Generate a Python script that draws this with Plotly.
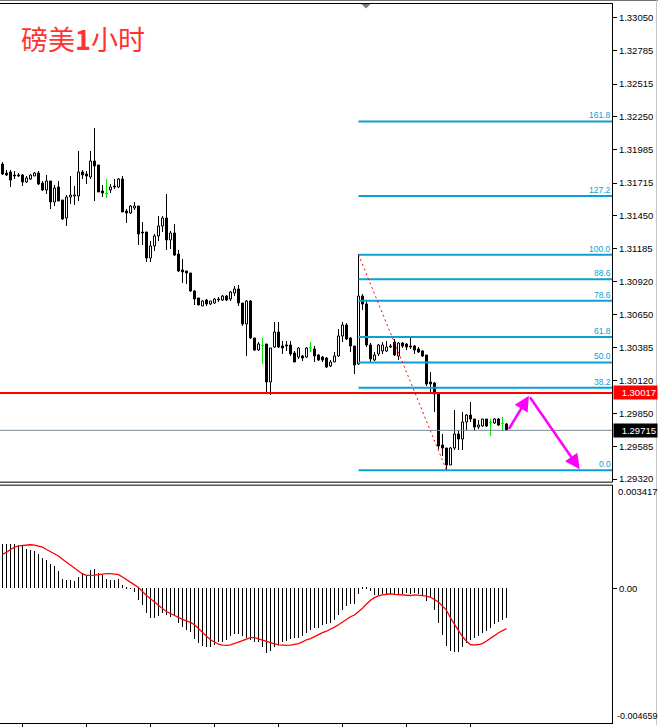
import plotly.graph_objects as go

W, H = 658, 727

# ---------------- data (GBP/USD, H1) ----------------
opens = [1.31863, 1.31796, 1.31801, 1.31774, 1.31778, 1.31774, 1.31720, 1.31742, 1.31769, 1.31790,
         1.31710, 1.31656, 1.31726, 1.31559, 1.31675, 1.31572, 1.31425, 1.31602, 1.31607, 1.31607,
         1.31804, 1.31782, 1.31756, 1.31890, 1.31855, 1.31647, 1.31629, 1.31656, 1.31688, 1.31675,
         1.31742, 1.31484, 1.31467, 1.31508, 1.31522, 1.31316, 1.31312, 1.31102, 1.31199, 1.31279,
         1.31360, 1.31425, 1.31252, 1.31306, 1.31136, 1.31010, 1.30999, 1.30983, 1.30840, 1.30781,
         1.30719, 1.30765, 1.30733, 1.30741, 1.30773, 1.30768, 1.30800, 1.30773, 1.30822, 1.30854,
         1.30741, 1.30571, 1.30759, 1.30456, 1.30364, 1.30402, 1.30410, 1.30101, 1.30383, 1.30504,
         1.30396, 1.30402, 1.30402, 1.30337, 1.30302, 1.30311, 1.30302, 1.30383, 1.30369, 1.30321,
         1.30302, 1.30294, 1.30230, 1.30267, 1.30311, 1.30472, 1.30563, 1.30456, 1.30391, 1.30248,
         1.30795, 1.30733, 1.30402, 1.30283, 1.30329, 1.30356, 1.30356, 1.30383, 1.30424, 1.30315,
         1.30418, 1.30410, 1.30391, 1.30396, 1.30369, 1.30356, 1.30321, 1.30101, 1.30095, 1.30014,
         1.29594, 1.29568, 1.29433, 1.29568, 1.29683, 1.29643, 1.29778, 1.29837, 1.29799, 1.29737,
         1.29750, 1.29799, 1.29778, 1.29772, 1.29799, 1.29772, 1.29764]
highs = [1.31882, 1.31817, 1.31817, 1.31809, 1.31790, 1.31782, 1.31764, 1.31782, 1.31804, 1.31809,
         1.31728, 1.31774, 1.31730, 1.31693, 1.31728, 1.31575, 1.31613, 1.31764, 1.31688, 1.31970,
         1.31815, 1.31809, 1.31970, 1.32159, 1.31858, 1.31693, 1.31742, 1.31702, 1.31742, 1.31748,
         1.31764, 1.31500, 1.31532, 1.31554, 1.31525, 1.31397, 1.31315, 1.31244, 1.31298, 1.31441,
         1.31446, 1.31621, 1.31325, 1.31379, 1.31169, 1.31096, 1.31002, 1.30986, 1.30843, 1.30784,
         1.30765, 1.30773, 1.30759, 1.30781, 1.30792, 1.30805, 1.30805, 1.30840, 1.30881, 1.30886,
         1.30744, 1.30762, 1.30762, 1.30459, 1.30424, 1.30456, 1.30413, 1.30378, 1.30585, 1.30585,
         1.30437, 1.30437, 1.30437, 1.30356, 1.30383, 1.30321, 1.30383, 1.30424, 1.30391, 1.30329,
         1.30315, 1.30302, 1.30283, 1.30343, 1.30531, 1.30585, 1.30579, 1.30464, 1.30394, 1.31136,
         1.30814, 1.30759, 1.30418, 1.30343, 1.30410, 1.30424, 1.30437, 1.30410, 1.30450, 1.30428,
         1.30428, 1.30418, 1.30464, 1.30402, 1.30383, 1.30364, 1.30324, 1.30181, 1.30098, 1.30017,
         1.29683, 1.29571, 1.29576, 1.29879, 1.29710, 1.29863, 1.29845, 1.29944, 1.29804, 1.29791,
         1.29804, 1.29804, 1.29804, 1.29810, 1.29810, 1.29818, 1.29772]
lows = [1.31774, 1.31764, 1.31683, 1.31742, 1.31758, 1.31688, 1.31715, 1.31734, 1.31764, 1.31696,
        1.31647, 1.31621, 1.31505, 1.31522, 1.31565, 1.31413, 1.31360, 1.31540, 1.31532, 1.31567,
        1.31742, 1.31702, 1.31742, 1.31567, 1.31637, 1.31602, 1.31588, 1.31634, 1.31661, 1.31667,
        1.31473, 1.31387, 1.31459, 1.31494, 1.31209, 1.31209, 1.31069, 1.31069, 1.31163, 1.31244,
        1.31312, 1.31171, 1.31177, 1.31123, 1.30994, 1.30902, 1.30894, 1.30832, 1.30727, 1.30722,
        1.30714, 1.30719, 1.30725, 1.30730, 1.30747, 1.30759, 1.30759, 1.30759, 1.30800, 1.30719,
        1.30558, 1.30311, 1.30453, 1.30356, 1.30356, 1.30248, 1.30020, 1.29998, 1.30375, 1.30375,
        1.30329, 1.30356, 1.30315, 1.30262, 1.30289, 1.30275, 1.30294, 1.30348, 1.30262, 1.30275,
        1.30262, 1.30214, 1.30222, 1.30262, 1.30302, 1.30424, 1.30445, 1.30348, 1.30168, 1.30240,
        1.30687, 1.30383, 1.30256, 1.30275, 1.30315, 1.30329, 1.30348, 1.30378, 1.30311, 1.30283,
        1.30375, 1.30364, 1.30369, 1.30329, 1.30337, 1.30302, 1.30073, 1.30006, 1.29863, 1.29562,
        1.29503, 1.29393, 1.29427, 1.29548, 1.29548, 1.29548, 1.29710, 1.29778, 1.29702, 1.29724,
        1.29742, 1.29742, 1.29665, 1.29764, 1.29750, 1.29702, 1.29702]
closes = [1.31788, 1.31780, 1.31736, 1.31764, 1.31770, 1.31720, 1.31748, 1.31774, 1.31790, 1.31702,
          1.31656, 1.31728, 1.31559, 1.31667, 1.31567, 1.31419, 1.31602, 1.31618, 1.31618, 1.31804,
          1.31774, 1.31764, 1.31890, 1.31849, 1.31639, 1.31629, 1.31629, 1.31683, 1.31675, 1.31742,
          1.31478, 1.31467, 1.31522, 1.31524, 1.31298, 1.31304, 1.31102, 1.31199, 1.31284, 1.31360,
          1.31425, 1.31252, 1.31306, 1.31128, 1.31002, 1.30994, 1.30983, 1.30840, 1.30773, 1.30725,
          1.30759, 1.30730, 1.30755, 1.30773, 1.30765, 1.30800, 1.30768, 1.30827, 1.30854, 1.30741,
          1.30571, 1.30759, 1.30456, 1.30364, 1.30410, 1.30402, 1.30101, 1.30375, 1.30504, 1.30383,
          1.30375, 1.30396, 1.30329, 1.30267, 1.30375, 1.30294, 1.30375, 1.30383, 1.30315, 1.30283,
          1.30283, 1.30222, 1.30267, 1.30311, 1.30472, 1.30563, 1.30450, 1.30391, 1.30240, 1.30795,
          1.30733, 1.30402, 1.30289, 1.30321, 1.30402, 1.30402, 1.30383, 1.30396, 1.30321, 1.30418,
          1.30396, 1.30383, 1.30383, 1.30364, 1.30348, 1.30315, 1.30087, 1.30087, 1.30006, 1.29584,
          1.29568, 1.29433, 1.29568, 1.29683, 1.29643, 1.29778, 1.29837, 1.29799, 1.29737, 1.29756,
          1.29799, 1.29750, 1.29778, 1.29799, 1.29756, 1.29772, 1.29715]

macd_main = [0.00149, 0.00151, 0.00151, 0.00151, 0.00148, 0.00142, 0.00134, 0.00131, 0.00126, 0.00117,
             0.00104, 0.00097, 0.00081, 0.00074, 0.00057, 0.00033, 0.00029, 0.00027, 0.00025, 0.00038,
             0.00052, 0.00046, 0.00061, 0.00067, 0.00052, 0.00046, 0.00033, 0.00029, 0.00029, 0.00030,
             0.00010, 0.00004, -0.00001, -0.00013, -0.00041, -0.00057, -0.00083, -0.00099, -0.00099, -0.00095,
             -0.00083, -0.00091, -0.00097, -0.00095, -0.00117, -0.00131, -0.00140, -0.00148, -0.00173, -0.00187,
             -0.00196, -0.00200, -0.00200, -0.00193, -0.00182, -0.00182, -0.00176, -0.00162, -0.00155, -0.00155,
             -0.00162, -0.00167, -0.00176, -0.00182, -0.00182, -0.00198, -0.00219, -0.00212, -0.00200, -0.00193,
             -0.00182, -0.00178, -0.00173, -0.00170, -0.00167, -0.00162, -0.00151, -0.00140, -0.00136, -0.00133,
             -0.00125, -0.00122, -0.00117, -0.00108, -0.00091, -0.00074, -0.00061, -0.00052, -0.00052, -0.00020,
             0.00002, 0.00002, -0.00009, -0.00024, -0.00024, -0.00020, -0.00020, -0.00020, -0.00024, -0.00020,
             -0.00018, -0.00016, -0.00018, -0.00016, -0.00018, -0.00024, -0.00043, -0.00031, -0.00074, -0.00119,
             -0.00159, -0.00196, -0.00212, -0.00215, -0.00215, -0.00200, -0.00185, -0.00176, -0.00170, -0.00162,
             -0.00153, -0.00144, -0.00133, -0.00122, -0.00114, -0.00106, -0.00102]
macd_signal = [0.00116, 0.00122, 0.00132, 0.00140, 0.00144, 0.00146, 0.00148, 0.00148, 0.00147, 0.00144,
               0.00140, 0.00132, 0.00124, 0.00117, 0.00110, 0.00099, 0.00089, 0.00078, 0.00068, 0.00058,
               0.00049, 0.00044, 0.00044, 0.00045, 0.00047, 0.00049, 0.00050, 0.00050, 0.00049, 0.00047,
               0.00039, 0.00029, 0.00019, 0.00012, 0.00003, -0.00012, -0.00024, -0.00035, -0.00047, -0.00059,
               -0.00068, -0.00078, -0.00085, -0.00093, -0.00100, -0.00105, -0.00110, -0.00115, -0.00123, -0.00137,
               -0.00149, -0.00162, -0.00174, -0.00183, -0.00189, -0.00192, -0.00193, -0.00191, -0.00187, -0.00183,
               -0.00177, -0.00172, -0.00167, -0.00167, -0.00170, -0.00175, -0.00179, -0.00184, -0.00188, -0.00191,
               -0.00193, -0.00193, -0.00192, -0.00190, -0.00187, -0.00181, -0.00174, -0.00170, -0.00163, -0.00156,
               -0.00150, -0.00145, -0.00139, -0.00131, -0.00123, -0.00113, -0.00104, -0.00096, -0.00090, -0.00080,
               -0.00067, -0.00053, -0.00040, -0.00031, -0.00025, -0.00022, -0.00020, -0.00018, -0.00020, -0.00021,
               -0.00024, -0.00024, -0.00024, -0.00022, -0.00022, -0.00024, -0.00026, -0.00030, -0.00038, -0.00046,
               -0.00060, -0.00074, -0.00100, -0.00124, -0.00143, -0.00163, -0.00179, -0.00190, -0.00192, -0.00190,
               -0.00187, -0.00178, -0.00170, -0.00160, -0.00150, -0.00143, -0.00136]

price_ticks = [1.33050, 1.32785, 1.32515, 1.32250, 1.31985, 1.31715, 1.31450, 1.31185,
               1.30920, 1.30650, 1.30385, 1.30120, 1.29850, 1.29585, 1.29320]
fib_ratios = [0.0, 0.382, 0.5, 0.618, 0.786, 0.886, 1.0, 1.272, 1.618]
fib_labels = ["0.0", "38.2", "50.0", "61.8", "78.6", "88.6", "100.0", "127.2", "161.8"]
fib_high_bar = 90
fib_low_bar = 112
resistance = 1.30017
time_ticks = [6, 22, 38, 54, 70, 86, 102, 118]
forecast_x = [127.4, 132.6, 145.3]
forecast_y = [1.29715, 1.29995, 1.29400]
macd_top_label, macd_bottom_label = "0.003417", "-0.004659"
macd_range = [-0.00456, 0.00350]
title_text = "磅美<b>1</b>小时"

# ---------------- styling ----------------
FIB = "#0aa0d4"
LIME = "#00e600"
FONT = "Liberation Sans"
X_RANGE = [0.375, 153.375]
X_DOM = [0, 612 / W]


def fy(p):
    return 1 - p / H


def fx(p):
    return p / W


n = len(opens)
bars = list(range(1, n + 1))
doji = [o == c for o, c in zip(opens, closes)]

fig = go.Figure()

# wicks
fig.add_trace(go.Bar(
    x=bars, base=lows, y=[h - l for h, l in zip(highs, lows)], width=0.25,
    marker=dict(color=[LIME if d else "black" for d in doji], line=dict(width=0)),
    xaxis="x", yaxis="y", hoverinfo="skip"))
# bodies
idx = [i for i in range(n) if not doji[i]]
fig.add_trace(go.Bar(
    x=[bars[i] for i in idx],
    base=[min(opens[i], closes[i]) for i in idx],
    y=[abs(closes[i] - opens[i]) for i in idx], width=0.5,
    marker=dict(color=["white" if closes[i] > opens[i] else "black" for i in idx],
                line=dict(color="black", width=1)),
    xaxis="x", yaxis="y", hoverinfo="skip"))
# doji ticks
dx, dy = [], []
for i in range(n):
    if doji[i]:
        dx += [bars[i] - 0.375, bars[i] + 0.375, None]
        dy += [opens[i], opens[i], None]
fig.add_trace(go.Scatter(x=dx, y=dy, mode="lines", line=dict(color=LIME, width=1),
                         xaxis="x", yaxis="y", hoverinfo="skip"))

# fibonacci
fib_hi = highs[fib_high_bar - 1]
fib_lo = lows[fib_low_bar - 1]
annotations = []
for r, lab in zip(fib_ratios, fib_labels):
    lvl = fib_lo + r * (fib_hi - fib_lo)
    fig.add_trace(go.Scatter(x=[fib_high_bar, X_RANGE[1]], y=[lvl, lvl], mode="lines",
                             line=dict(color=FIB, width=2), xaxis="x", yaxis="y",
                             hoverinfo="skip"))
    annotations.append(dict(x=X_RANGE[1], y=lvl, xref="x", yref="y", text=lab,
                            showarrow=False, xanchor="right", yanchor="bottom",
                            borderpad=0, yshift=0,
                            font=dict(family=FONT, size=8.5, color=FIB)))
fig.add_trace(go.Scatter(x=[fib_high_bar, fib_low_bar], y=[fib_hi, fib_lo], mode="lines",
                         line=dict(color="red", width=1, dash="2px,3px"),
                         xaxis="x", yaxis="y", hoverinfo="skip"))

# MACD
fig.add_trace(go.Bar(x=bars, y=macd_main, width=0.25,
                     marker=dict(color="black", line=dict(width=0)),
                     xaxis="x2", yaxis="y2", hoverinfo="skip"))
fig.add_trace(go.Scatter(x=bars, y=macd_signal, mode="lines",
                         line=dict(color="red", width=1.3),
                         xaxis="x2", yaxis="y2", hoverinfo="skip"))

shapes = [
    dict(type="line", xref="x domain", yref="y", x0=0, x1=1, y0=resistance, y1=resistance,
         line=dict(color="#ff0000", width=2)),
    dict(type="line", xref="x domain", yref="y", x0=0, x1=1, y0=closes[-1], y1=closes[-1],
         line=dict(color="#7b8794", width=1)),
    # frames
    dict(type="line", xref="paper", yref="paper", x0=0, x1=1, y0=fy(0.5), y1=fy(0.5),
         line=dict(color="#707070", width=1)),
    dict(type="line", xref="paper", yref="paper", x0=0, x1=fx(612.5), y0=fy(3.5), y1=fy(3.5),
         line=dict(color="black", width=1)),
    dict(type="line", xref="paper", yref="paper", x0=0, x1=fx(612.5), y0=fy(483.5), y1=fy(483.5),
         line=dict(color="black", width=1)),
    dict(type="line", xref="paper", yref="paper", x0=0, x1=fx(612.5), y0=fy(486.5), y1=fy(486.5),
         line=dict(color="black", width=1)),
    dict(type="line", xref="paper", yref="paper", x0=fx(656.5), x1=fx(656.5), y0=0, y1=1,
         line=dict(color="#c8c8c8", width=1)),
    dict(type="path", xref="paper", yref="paper",
         path=f"M {fx(361.5)},{fy(4)} L {fx(370.5)},{fy(4)} L {fx(366)},{fy(8.5)} Z",
         fillcolor="#6f7f8f", line=dict(width=0)),
]

# price label boxes
for val, bg in [(resistance, "#ff0000"), (closes[-1], "black")]:
    annotations.append(dict(x=fx(613), y=val, xref="paper", yref="y", text=f"{val:.5f}",
                            showarrow=False, xanchor="left", yanchor="middle",
                            bgcolor=bg, borderpad=1, width=41, height=11, align="right",
                            font=dict(family=FONT, size=9.5, color="white")))

# MACD extreme labels
annotations.append(dict(x=fx(617), y=fy(492.5), xref="paper", yref="paper", text=macd_top_label,
                        showarrow=False, xanchor="left", yanchor="middle", borderpad=0,
                        font=dict(family=FONT, size=9.5, color="black")))
annotations.append(dict(x=fx(616), y=fy(717.5), xref="paper", yref="paper", text=macd_bottom_label,
                        showarrow=False, xanchor="left", yanchor="middle", borderpad=0,
                        font=dict(family=FONT, size=9, color="black")))

# forecast arrows
for k in range(len(forecast_x) - 1):
    annotations.append(dict(x=forecast_x[k + 1], y=forecast_y[k + 1],
                            ax=forecast_x[k], ay=forecast_y[k],
                            xref="x", yref="y", axref="x", ayref="y", text="",
                            showarrow=True, arrowhead=2, arrowsize=1.2, arrowwidth=2.5,
                            arrowcolor="#ff00ff", standoff=0, startstandoff=0))

# title
annotations.append(dict(x=fx(19), y=fy(39), xref="paper", yref="paper", text=title_text,
                        showarrow=False, xanchor="left", yanchor="middle",
                        font=dict(family="Noto Sans CJK SC", size=27, color="#ff3333")))

fig.update_layout(
    width=W, height=H, margin=dict(l=0, r=0, t=0, b=0),
    paper_bgcolor="white", plot_bgcolor="white", showlegend=False,
    barmode="overlay", bargap=0, bargroupgap=0,
    xaxis=dict(domain=X_DOM, range=X_RANGE, anchor="y", showticklabels=False,
               showgrid=False, zeroline=False, ticks="", showline=False, fixedrange=True),
    yaxis=dict(domain=[fy(483.5), fy(3.5)], range=[1.292957, 1.331671], side="right",
               anchor="x", tickvals=price_ticks, ticktext=[f"{v:.5f}" for v in price_ticks],
               ticks="outside", ticklen=4, tickcolor="black", tickwidth=1,
               tickfont=dict(family=FONT, size=9.5, color="black"),
               showgrid=False, zeroline=False, showline=True, linecolor="black",
               linewidth=1, fixedrange=True),
    xaxis2=dict(domain=X_DOM, range=X_RANGE, anchor="y2", tickvals=time_ticks,
                ticks="outside", ticklen=3, tickcolor="black", showticklabels=False,
                showgrid=False, zeroline=False, showline=True, linecolor="black",
                linewidth=1, fixedrange=True),
    yaxis2=dict(domain=[fy(725), fy(486.5)], range=macd_range, side="right", anchor="x2",
                tickvals=[0], ticktext=["0.00"], ticks="outside", ticklen=4,
                tickcolor="black", tickfont=dict(family=FONT, size=9.5, color="black"),
                showgrid=False, zeroline=False, showline=True, linecolor="black",
                linewidth=1, fixedrange=True),
    shapes=shapes, annotations=annotations,
)

fig.write_html("out.html")
